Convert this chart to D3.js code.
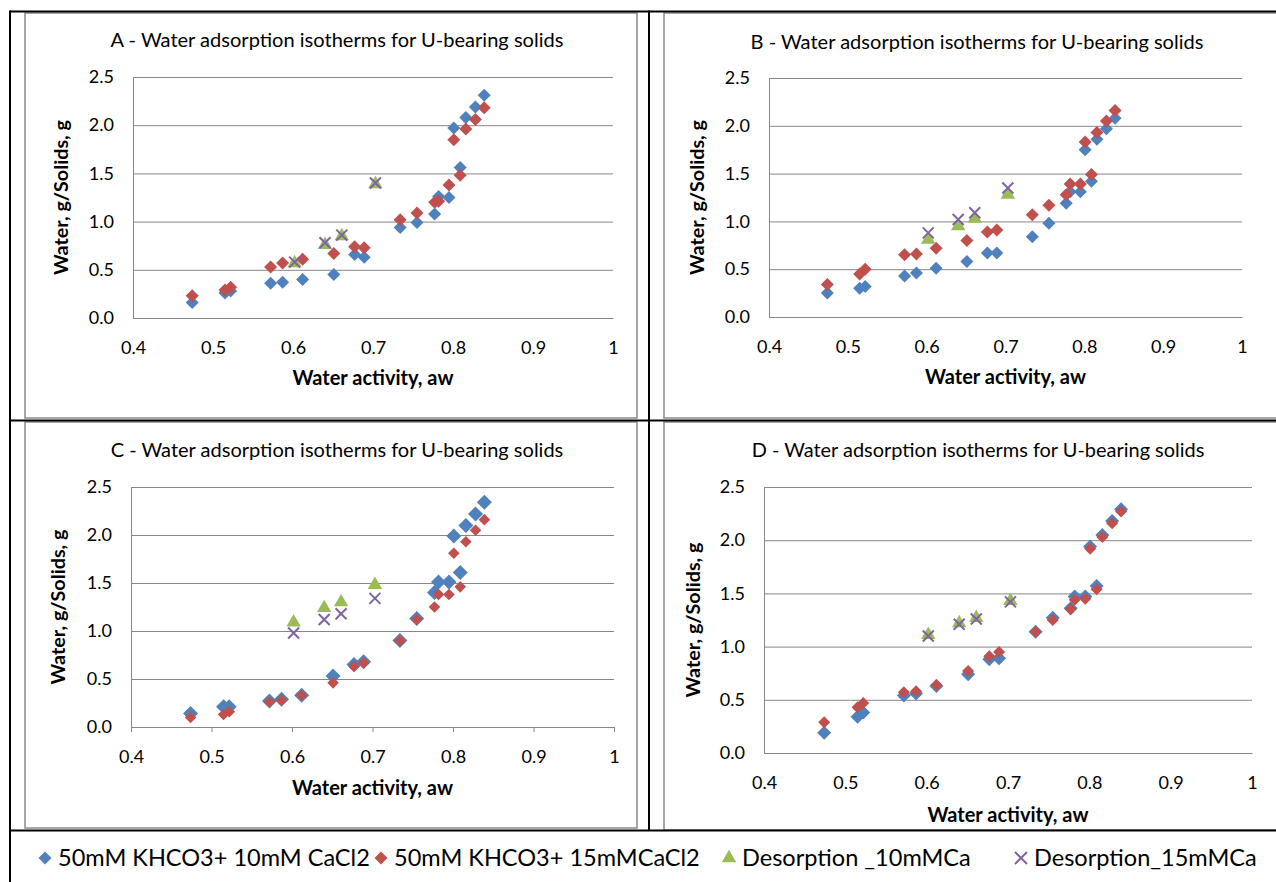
<!DOCTYPE html>
<meta charset="utf-8">
<style>
body { margin: 0; background: #fff; }
text { font-family: Lato, "Open Sans", sans-serif; fill: #000; }
.grid line, .axis line { stroke: #878787; stroke-width: 1; }
.frame { fill: none; stroke: #8a8a8a; stroke-width: 1.5; }
.table { stroke: #000; stroke-width: 2; }
.tick text { font-size: 18px; }
.ttl { font-size: 17px; }
.atl { font-size: 17px; font-weight: bold; }
</style>
<svg width="1276" height="882"></svg>
<script src="https://cdn.jsdelivr.net/npm/d3@7"></script>
<script>

// water activity of each measurement (same for all four samples)
var aw = [0.474, 0.515, 0.522, 0.572, 0.587, 0.612, 0.651, 0.677, 0.689, 0.734,
          0.755, 0.777, 0.782, 0.795, 0.809, 0.801, 0.816, 0.828, 0.839];
var awDes = [0.602, 0.640, 0.661, 0.703];

var xTicks = [0.4, 0.5, 0.6, 0.7, 0.8, 0.9, 1];
var yTicks = [0, 0.5, 1, 1.5, 2, 2.5];

var seriesNames = ["50mM KHCO3+ 10mM CaCl2", "50mM KHCO3+ 15mMCaCl2", "Desorption _10mMCa", "Desorption_15mMCa"];

// A
var aBlue = [0.16, 0.26, 0.28, 0.36, 0.37, 0.40, 0.45, 0.66, 0.63, 0.94, 0.99, 1.08, 1.26, 1.25, 1.56, 1.97, 2.08, 2.19, 2.31];
var aRed  = [0.23, 0.29, 0.32, 0.53, 0.57, 0.61, 0.67, 0.74, 0.73, 1.02, 1.09, 1.20, 1.21, 1.38, 1.48, 1.85, 1.96, 2.06, 2.18];
var aGreen = [0.57, 0.76, 0.85, 1.39];
var aPurple = [0.58, 0.78, 0.86, 1.40];
// B
var bBlue = [0.25, 0.30, 0.32, 0.43, 0.46, 0.51, 0.58, 0.67, 0.67, 0.84, 0.98, 1.19, 1.31, 1.31, 1.42, 1.75, 1.86, 1.97, 2.08];
var bRed  = [0.34, 0.45, 0.50, 0.65, 0.66, 0.72, 0.80, 0.89, 0.91, 1.07, 1.17, 1.28, 1.39, 1.39, 1.49, 1.83, 1.93, 2.05, 2.16];
var bGreen = [0.81, 0.95, 1.03, 1.28];
var bPurple = [0.88, 1.02, 1.09, 1.35];
// C
var cBlue = [0.14, 0.21, 0.21, 0.27, 0.29, 0.33, 0.53, 0.65, 0.68, 0.90, 1.13, 1.40, 1.51, 1.51, 1.61, 1.99, 2.10, 2.22, 2.34];
var cRed  = [0.10, 0.13, 0.16, 0.26, 0.28, 0.33, 0.46, 0.63, 0.67, 0.90, 1.12, 1.25, 1.38, 1.38, 1.46, 1.81, 1.93, 2.05, 2.16];
var cGreen = [1.09, 1.24, 1.30, 1.48];
var cPurple = [0.98, 1.12, 1.18, 1.34];
// D
var dBlue = [0.19, 0.34, 0.38, 0.54, 0.56, 0.63, 0.74, 0.88, 0.89, 1.14, 1.27, 1.36, 1.47, 1.47, 1.57, 1.94, 2.05, 2.18, 2.29];
var dRed  = [0.29, 0.43, 0.47, 0.57, 0.58, 0.64, 0.77, 0.91, 0.95, 1.14, 1.25, 1.35, 1.44, 1.45, 1.54, 1.92, 2.03, 2.16, 2.27];
var dGreen = [1.11, 1.22, 1.27, 1.43];
var dPurple = [1.10, 1.21, 1.26, 1.42];

var colors = ["#4f81bd", "#c0504d", "#9bbb59", "#8064a2"];

var panels = [
  {letter: "A", frame: [25, 13, 612, 405], plot: [133, 613, 77, 318], titleX: 337, titleY: 40, xTitleY: 378, yTitleX: 61,
   blue: aBlue, red: aRed, green: aGreen, purple: aPurple, sizes: [6.5, 6.5], ticks: false},
  {letter: "B", frame: [664, 13, 640, 405], plot: [769, 1242, 78, 317], titleX: 977, titleY: 42, xTitleY: 377, yTitleX: 697,
   blue: bBlue, red: bRed, green: bGreen, purple: bPurple, sizes: [6.5, 6.5], ticks: false},
  {letter: "C", frame: [25, 422, 612, 406], plot: [131, 614, 487, 727], titleX: 337, titleY: 450, xTitleY: 788, yTitleX: 58,
   blue: cBlue, red: cRed, green: cGreen, purple: cPurple, sizes: [7.5, 5.8], ticks: true},
  {letter: "D", frame: [664, 422, 640, 408], plot: [764, 1252, 487, 753], titleX: 978, titleY: 450, xTitleY: 815, yTitleX: 693,
   blue: dBlue, red: dRed, green: dGreen, purple: dPurple, sizes: [7, 6], ticks: false}
];

var svg = d3.select("svg");

function diamond(h) { return d3.symbol(d3.symbolSquare, 2 * h * h)(); }
function triangle(h) { return d3.symbol(d3.symbolTriangle, h * h * 1.6)(); }
function cross(h) { return "M" + (-h) + "," + (-h) + "L" + h + "," + h + "M" + (-h) + "," + h + "L" + h + "," + (-h); }

function fit(sel, w) {
  sel.each(function() {
    var l = this.getComputedTextLength();
    var fs = parseFloat(getComputedStyle(this).fontSize);
    d3.select(this).style("font-size", (fs * w / l) + "px");
  });
}

panels.forEach(function(p) {
  var g = svg.append("g");
  var x = d3.scaleLinear().domain([0.4, 1]).range([p.plot[0], p.plot[1]]);
  var y = d3.scaleLinear().domain([0, 2.5]).range([p.plot[3], p.plot[2]]);

  g.append("rect").attr("class", "frame")
    .attr("x", p.frame[0]).attr("y", p.frame[1]).attr("width", p.frame[2]).attr("height", p.frame[3]);

  // gridlines + y labels
  g.append("g").attr("class", "grid axis")
    .attr("transform", "translate(" + p.plot[0] + ",0)")
    .call(d3.axisLeft(y).tickValues(yTicks).tickFormat(d3.format(".1f"))
      .tickSize(-(p.plot[1] - p.plot[0])).tickPadding(19))
    .call(function(a) { a.select(".domain").attr("stroke", "#878787"); });

  // x axis
  g.append("g").attr("class", "axis")
    .attr("transform", "translate(0," + p.plot[3] + ")")
    .call(d3.axisBottom(x).tickValues(xTicks).tickFormat(function(d) { return d === 1 ? "1" : d3.format(".1f")(d); })
      .tickSize(p.ticks ? 5 : 0).tickSizeOuter(0).tickPadding(p.ticks ? 18 : 23))
    .call(function(a) { a.select(".domain").attr("stroke", "#878787"); });

  g.selectAll(".axis .tick text").attr("fill", "#000");

  g.append("text").attr("class", "ttl").attr("x", p.titleX).attr("y", p.titleY).attr("dy", "0.35em")
    .attr("text-anchor", "middle").text(p.letter + " - Water adsorption isotherms for U-bearing solids")
    .call(fit, 453);

  g.append("text").attr("class", "atl").attr("x", (p.plot[0] + p.plot[1]) / 2).attr("y", p.xTitleY).attr("dy", "0.35em")
    .attr("text-anchor", "middle").text("Water activity, aw").call(fit, 161);

  g.append("text").attr("class", "atl")
    .attr("transform", "translate(" + p.yTitleX + "," + (p.plot[2] + p.plot[3]) / 2 + ") rotate(-90)")
    .attr("dy", "0.35em").attr("text-anchor", "middle").text("Water, g/Solids, g").call(fit, 155);

  // markers
  var pts = g.append("g");
  pts.selectAll(".blue").data(p.blue).enter().append("path").attr("class", "blue")
    .attr("d", diamond(p.sizes[0])).attr("fill", colors[0])
    .attr("transform", function(d, i) { return "translate(" + x(aw[i]) + "," + y(d) + ") rotate(45)"; });
  pts.selectAll(".red").data(p.red).enter().append("path").attr("class", "red")
    .attr("d", diamond(p.sizes[1])).attr("fill", colors[1])
    .attr("transform", function(d, i) { return "translate(" + x(aw[i]) + "," + y(d) + ") rotate(45)"; });
  pts.selectAll(".green").data(p.green).enter().append("path").attr("class", "green")
    .attr("d", triangle(7.5)).attr("fill", colors[2])
    .attr("transform", function(d, i) { return "translate(" + x(awDes[i]) + "," + y(d) + ")"; });
  pts.selectAll(".purple").data(p.purple).enter().append("path").attr("class", "purple")
    .attr("d", cross(5.5)).attr("fill", "none").attr("stroke", colors[3]).attr("stroke-width", 2)
    .attr("transform", function(d, i) { return "translate(" + x(awDes[i]) + "," + y(d) + ")"; });
});

// table lines
var lines = [[10, 11.5, 1276, 11.5], [10, 10.5, 10, 882], [649, 10.5, 649, 830], [10, 420.5, 1276, 420.5], [10, 830.5, 1276, 830.5]];
svg.selectAll(".table").data(lines).enter().append("line").attr("class", "table")
  .attr("x1", function(d) { return d[0]; }).attr("y1", function(d) { return d[1]; })
  .attr("x2", function(d) { return d[2]; }).attr("y2", function(d) { return d[3]; });

// legend
var lg = svg.append("g").attr("transform", "translate(0,858)");
var shapes = [diamond(6.5), diamond(6.5), triangle(7.5), cross(6)];
var legendX = [45, 381, 729, 1021];
var fs = null;
seriesNames.forEach(function(name, i) {
  var cx = legendX[i];
  var s = lg.append("path").attr("d", shapes[i]).attr("transform", "translate(" + cx + ",0)" + (i < 2 ? " rotate(45)" : ""));
  if (i === 3) s.attr("fill", "none").attr("stroke", colors[3]).attr("stroke-width", 2);
  else s.attr("fill", colors[i]);
  var t = lg.append("text").attr("x", cx + 13).attr("dy", "0.35em").text(name).style("font-size", "23px");
  if (i === 0) { t.call(fit, 312); fs = t.style("font-size"); }
  else t.style("font-size", fs);
});

</script>
